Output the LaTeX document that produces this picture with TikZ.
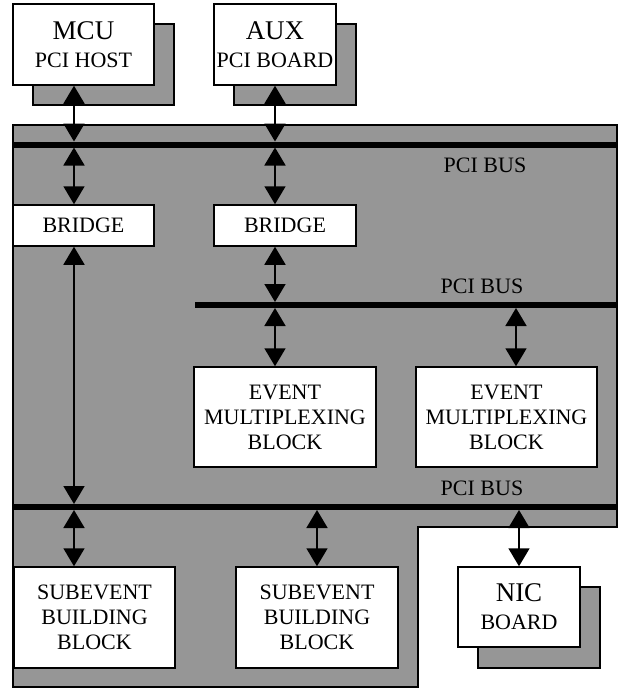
\documentclass[tikz,border=0pt]{standalone}
\usepackage{fontspec}
\setmainfont{Liberation Serif}
\usetikzlibrary{arrows.meta}
\definecolor{panel}{RGB}{150,150,150}
\begin{document}
\begin{tikzpicture}[x=1pt,y=-1pt,
  box/.style={draw=black, line width=1.5pt, fill=white, align=center, inner sep=0pt,
    font=\fontsize{22}{25}\selectfont},
  bigbox/.style={box, font=\fontsize{22}{28}\selectfont},
  shadowbox/.style={draw=black, line width=1.5pt, fill=panel},
  bus/.style={line width=6pt},
  link/.style={line width=1.8pt,
    {Triangle[width=21pt,length=18pt]}-{Triangle[width=21pt,length=18pt]}},
  buslabel/.style={font=\fontsize{22}{25}\selectfont, inner sep=0pt}]
\useasboundingbox (0,0) rectangle (621,688);

% shadows of the boards
\draw[shadowbox] (33,24) rectangle (174,105);
\draw[shadowbox] (234,24) rectangle (356,105);

% system panel
\draw[line width=1.5pt, fill=panel] (13,125) -- (617,125) -- (617,527) -- (418,527)
  -- (418,687) -- (13,687) -- cycle;

\draw[shadowbox] (478,587) rectangle (600,668);

% buses
\draw[bus] (13,144.5) -- (617,144.5);
\draw[bus] (195,305) -- (617,305);
\draw[bus] (13,507) -- (617,507);

\node[buslabel] (lab1) at (485,165) {PCI BUS};
\node[buslabel] (lab2) at (482,286) {PCI BUS};
\node[buslabel] (lab3) at (482,488) {PCI BUS};

% boxes
\node[bigbox, minimum width=141pt, minimum height=81pt] (mcu) at (83.5,44.5)
  {{\fontsize{27}{28}\selectfont MCU}\\PCI HOST};
\node[bigbox, minimum width=122pt, minimum height=81pt] (aux) at (275,44.5)
  {{\fontsize{27}{28}\selectfont AUX}\\PCI BOARD};
\node[box, minimum width=141pt, minimum height=41pt] (bridgeL) at (83.5,225.5) {BRIDGE};
\node[box, minimum width=142pt, minimum height=41pt] (bridgeR) at (285,225.5) {BRIDGE};
\node[box, minimum width=182pt, minimum height=100pt] (ev1) at (285,417)
  {EVENT\\MULTIPLEXING\\BLOCK};
\node[box, minimum width=181pt, minimum height=100pt] (ev2) at (506.5,417)
  {EVENT\\MULTIPLEXING\\BLOCK};
\node[box, minimum width=161pt, minimum height=101pt] (sub1) at (94.5,617.5)
  {SUBEVENT\\BUILDING\\BLOCK};
\node[box, minimum width=162pt, minimum height=101pt] (sub2) at (317,617.5)
  {SUBEVENT\\BUILDING\\BLOCK};
\node[bigbox, minimum width=122pt, minimum height=80pt] (nic) at (519,607)
  {{\fontsize{27}{28}\selectfont NIC}\\BOARD};

% bus attachment points
\coordinate (pA) at (74,141.5);
\coordinate (pB) at (74,147.5);
\coordinate (pC) at (275,141.5);
\coordinate (pD) at (275,147.5);
\coordinate (pE) at (74,504);
\coordinate (pF) at (74,510);
\coordinate (pG) at (275,302);
\coordinate (pH) at (275,308);
\coordinate (pI) at (516,308);
\coordinate (pJ) at (317,510);
\coordinate (pK) at (519,510);

% connectors
\draw[link] (mcu.south -| pA) -- (pA);
\draw[link] (pB) -- (bridgeL.north -| pB);
\draw[link] (aux.south -| pC) -- (pC);
\draw[link] (pD) -- (bridgeR.north -| pD);
\draw[link] (bridgeL.south -| pE) -- (pE);
\draw[link] (pF) -- (sub1.north -| pF);
\draw[link] (bridgeR.south -| pG) -- (pG);
\draw[link] (pH) -- (ev1.north -| pH);
\draw[link] (pI) -- (ev2.north -| pI);
\draw[link] (pJ) -- (sub2.north -| pJ);
\draw[link] (pK) -- (nic.north -| pK);
\end{tikzpicture}
\end{document}
